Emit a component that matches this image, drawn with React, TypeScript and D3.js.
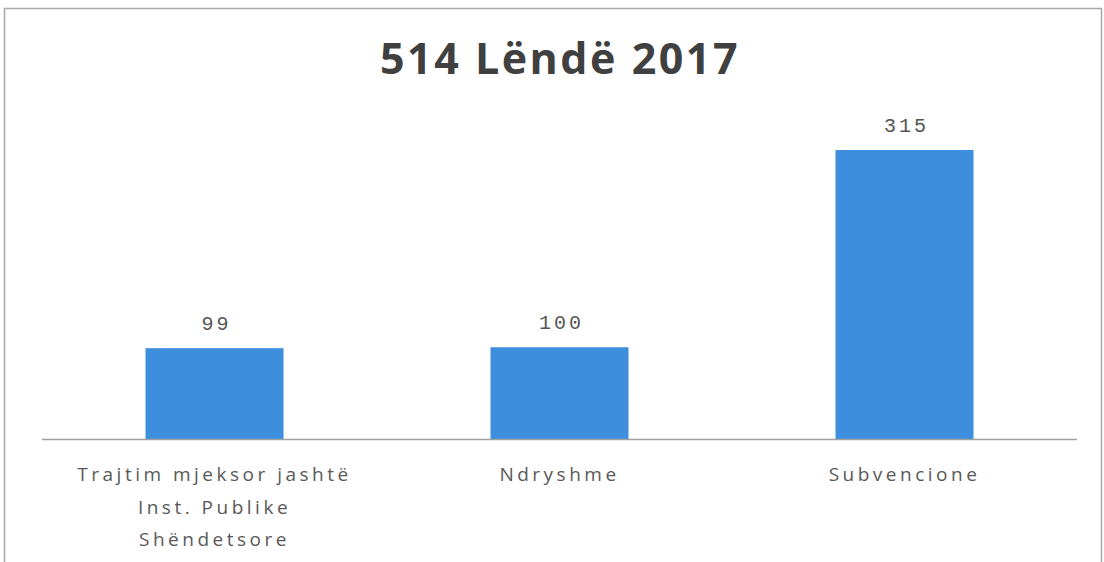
import * as d3 from "d3";
import { useEffect, useRef } from "react";

const title = "514 Lëndë 2017";
const categories = ["Trajtim mjeksor jashtë|Inst. Publike|Shëndetsore", "Ndryshme", "Subvencione"];
const values = [99, 100, 315];

export default function App() {
  const ref = useRef<SVGSVGElement | null>(null);
  useEffect(() => {
    if (!ref.current) return;
    const svg = d3.select(ref.current);
    svg.selectAll("*").remove();
    const w = 1104;
    const h = 562;
    const base = 439;

    svg.append("rect").attr("width", w).attr("height", h).attr("fill", "#fff");
    // chart frame (bottom cut off in the scan)
    svg
      .append("path")
      .attr("d", `M4.5,${h} V8.5 H1101.5 V${h}`)
      .attr("fill", "none")
      .attr("stroke", "#a8a8a8")
      .attr("stroke-width", 1.5);

    svg
      .append("text")
      .attr("x", 560)
      .attr("y", 74)
      .attr("text-anchor", "middle")
      .attr("font-family", "'Open Sans', sans-serif")
      .attr("font-weight", 700)
      .attr("font-size", 43)
      .attr("letter-spacing", 2.5)
      .attr("fill", "#404040")
      .text(title);

    const x = d3.scaleBand<number>().domain(d3.range(values.length)).range([42, 1077]).paddingInner(0.6).paddingOuter(0.3);
    const y = d3.scaleLinear().domain([0, 315]).range([base, 150]);

    svg
      .append("g")
      .selectAll("rect")
      .data(values)
      .join("rect")
      .attr("x", (_, i) => x(i)!)
      .attr("y", (d) => y(d))
      .attr("width", x.bandwidth())
      .attr("height", (d) => base - y(d))
      .attr("fill", "#3d8fdd");

    svg
      .append("line")
      .attr("x1", 42)
      .attr("x2", 1077)
      .attr("y1", base + 0.5)
      .attr("y2", base + 0.5)
      .attr("stroke", "#a0a0a0")
      .attr("stroke-width", 1.5);

    svg
      .append("g")
      .selectAll("text")
      .data(values)
      .join("text")
      .attr("x", (_, i) => x(i)! + x.bandwidth() / 2 + 2)
      .attr("y", (d) => y(d) - 18)
      .attr("text-anchor", "middle")
      .attr("font-family", "'Liberation Mono', monospace")
      .attr("font-size", 20)
      .attr("letter-spacing", 3)
      .attr("fill", "#555")
      .text((d) => d);

    const lab = svg
      .append("g")
      .selectAll("text")
      .data(categories)
      .join("text")
      .attr("x", (_, i) => x(i)! + x.bandwidth() / 2)
      .attr("y", 481)
      .attr("text-anchor", "middle")
      .attr("font-family", "'Open Sans', sans-serif")
      .attr("font-size", 19)
      .attr("letter-spacing", 3.5)
      .attr("fill", "#595959");
    lab
      .selectAll("tspan")
      .data((d) => d.split("|"))
      .join("tspan")
      .attr("x", function () {
        return (this.parentNode as SVGTextElement).getAttribute("x");
      })
      .attr("dy", (_, i) => (i === 0 ? 0 : 32.5))
      .text((d) => d);
  }, []);
  return <svg ref={ref} width={1104} height={562} style={{ position: "absolute", left: 0, top: 0 }} />;
}
